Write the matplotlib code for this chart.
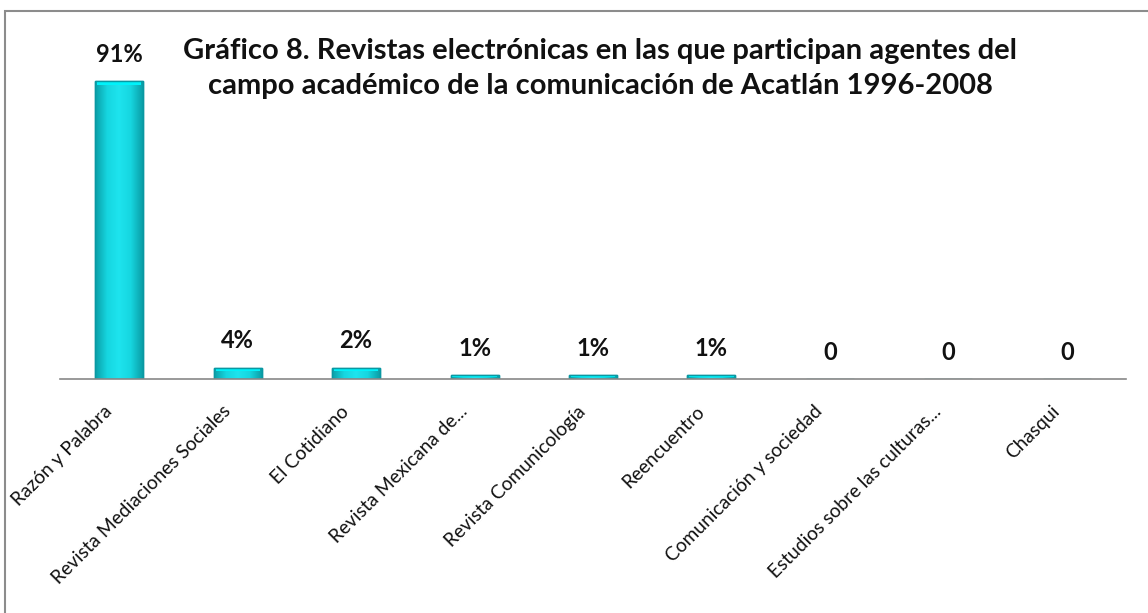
import matplotlib
matplotlib.use("Agg")
import matplotlib.pyplot as plt
import numpy as np
from matplotlib.patches import Rectangle
from matplotlib.colors import LinearSegmentedColormap
import matplotlib.transforms as mtransforms

categories = ["Razón y Palabra", "Revista Mediaciones Sociales", "El Cotidiano",
              "Revista Mexicana de...", "Revista Comunicología", "Reencuentro",
              "Comunicación y sociedad", "Estudios sobre las culturas...", "Chasqui"]
values = [0.91, 0.035, 0.035, 0.011, 0.011, 0.011, 0.0, 0.0, 0.0]
value_labels = ["91%", "4%", "2%", "1%", "1%", "1%", "0", "0", "0"]
title_lines = ["Gráfico 8. Revistas electrónicas en las que participan agentes del",
               "campo académico de la comunicación de Acatlán 1996-2008"]

plt.rcParams['font.family'] = ['Lato', 'DejaVu Sans']

W, H = 1148, 613
fig = plt.figure(figsize=(W / 100, H / 100), dpi=100)
fig.patch.set_facecolor('white')

# outer border (right/bottom cut off)
fig.add_artist(Rectangle((5 / W, -0.1), 1.2, (H - 11) / H + 0.1, transform=fig.transFigure,
                         fill=False, edgecolor='#8c8c8c', linewidth=1.5))

ax = fig.add_axes([60 / W, 1 - 379 / H, 1066 / W, 327 / H])
x = np.arange(len(categories))
bars = ax.bar(x, values, width=0.405, color='#18DCE6', edgecolor='#0A98A2', linewidth=1.0, zorder=2)

hcm = LinearSegmentedColormap.from_list('hz', ['#0B9FA8', '#16D6E0', '#1EE4EE', '#16D6E0', '#0B9FA8'])
for b in bars:
    h = b.get_height()
    if h <= 0:
        continue
    x0 = b.get_x()
    w = b.get_width()
    img = ax.imshow(np.tile(np.linspace(0, 1, 64), (2, 1)), cmap=hcm, aspect='auto',
                    extent=(x0, x0 + w, 0, h), zorder=2.1, origin='lower')
    img.set_clip_path(b)
    tb = min(h * 0.35, 0.012)
    ax.add_patch(Rectangle((x0 + w * 0.04, h - tb), w * 0.92, tb, facecolor='#00F2FA',
                           edgecolor='none', zorder=2.2))
    ax.add_patch(Rectangle((x0, 0), w, h, facecolor='none', edgecolor='#0A98A2',
                           linewidth=1.0, zorder=2.3))

ax.set_xlim(-0.5, len(categories) - 0.5)
ax.set_ylim(0, 1.0)
ax.set_yticks([])
for s in ['top', 'right', 'left']:
    ax.spines[s].set_visible(False)
ax.spines['bottom'].set_color('#888888')
ax.spines['bottom'].set_linewidth(1.2)
ax.spines['bottom'].set_zorder(3)

ax.set_xticks(x)
ax.set_xticklabels(categories, rotation=45, ha='right', va='top', fontsize=13.8,
                   color='#111111', rotation_mode='anchor')
ax.tick_params(axis='x', length=0, pad=17)
offset = mtransforms.ScaledTranslation(-16 / 100, 0, fig.dpi_scale_trans)
for lbl in ax.get_xticklabels():
    lbl.set_transform(lbl.get_transform() + offset)

for xi, v, lab in zip(x, values, value_labels):
    ax.annotate(lab, (xi, v), xytext=(0, 11), textcoords='offset points', ha='center',
                va='bottom', fontsize=17, fontweight='bold', color='#111111',
                annotation_clip=False)

for i, line in enumerate(title_lines):
    fig.text(600 / W, 1 - (59 + 35 * i) / H, line, ha='center', va='baseline', fontsize=21,
             fontweight='bold', color='#111111')

fig.savefig('out.png', dpi=100, facecolor='white')
